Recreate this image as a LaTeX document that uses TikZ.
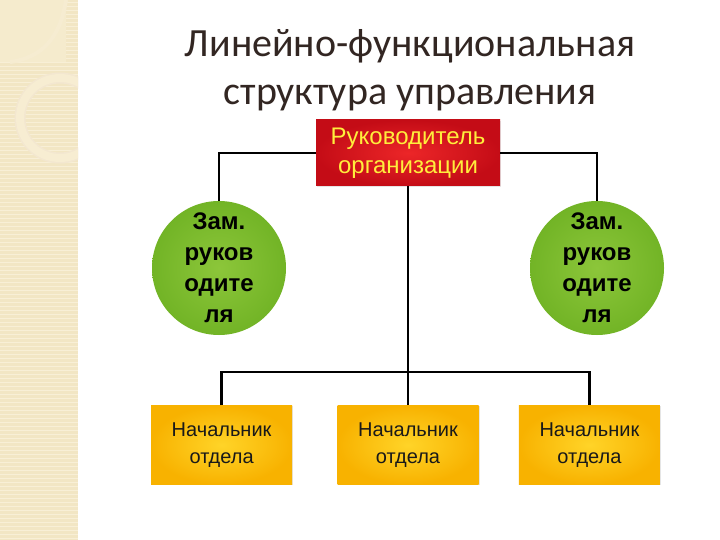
\documentclass[tikz,border=0pt]{standalone}
\usepackage{fontspec}
\setmainfont{Carlito}
\newfontfamily\arialfont{Liberation Sans}
\usetikzlibrary{positioning}
\usetikzlibrary{shadows}
\definecolor{titlegray}{RGB}{50,38,34}
\definecolor{redin}{RGB}{236,38,40}
\definecolor{redout}{RGB}{196,12,22}
\definecolor{greenin}{RGB}{140,198,58}
\definecolor{greenout}{RGB}{114,180,38}
\definecolor{orangein}{RGB}{255,212,40}
\definecolor{orangeout}{RGB}{248,178,0}
\definecolor{bossyellow}{RGB}{255,238,60}
\definecolor{beige}{RGB}{242,230,196}
\definecolor{beigeline}{RGB}{248,239,214}

\begin{document}
\begin{tikzpicture}[x=1pt, y=-1pt,
    every node/.style={align=center},
    bossbox/.style={rectangle, minimum width=184pt, minimum height=66pt, inner sep=0pt,
        inner color=redin, outer color=redout, text=bossyellow,
        font=\arialfont\fontsize{24}{29}\selectfont,
        drop shadow={opacity=0.2, shadow xshift=1pt, shadow yshift=-1pt}},
    deputy/.style={circle, minimum size=134pt, inner sep=0pt,
        inner color=greenin, outer color=greenout,
        font=\arialfont\bfseries\fontsize{24}{31}\selectfont},
    chiefbox/.style={rectangle, minimum width=141pt, minimum height=79pt, inner sep=0pt,
        inner color=orangein, outer color=orangeout, text=black!90,
        font=\arialfont\fontsize{20}{27}\selectfont,
        drop shadow={opacity=0.2, shadow xshift=1pt, shadow yshift=-1pt}},
    link/.style={draw, line width=2.8pt}]
    \useasboundingbox (0,0) rectangle (720,540);
    \fill[white] (0,0) rectangle (720,540);

    % decorative strip on the left
    \begin{scope}
        \clip (0,0) rectangle (78,540);
        \fill[beige] (0,0) rectangle (78,540);
        \foreach \y in {2,6,...,538}
            \draw[beigeline, line width=0.9pt] (0,\y) -- (78,\y);
        \fill[beigeline!50!beige] (0,0) rectangle (66,62);
        \draw[beigeline!70!beige, line width=4pt] (66,0) .. controls (60,40) and (40,58) .. (10,62);
        \draw[beige!85!brown!60, line width=11pt] (60,118) circle (40pt);
        \draw[beigeline!80!beige, line width=8pt] (60,118) circle (40pt);
    \end{scope}

    \node (title) at (410,70) [font=\fontsize{40}{48}\selectfont, text=titlegray]
        {Линейно-функциональная\\структура управления};

    \node (boss) at (408,153) [bossbox] {Руководитель\\организации};
    \node (dep1) at (219,268) [deputy] {Зам.\\руков\\одите\\ля};
    \node (dep2) at (597,268) [deputy] {Зам.\\руков\\одите\\ля};
    \node (head2) [chiefbox, below=219pt of boss] {Начальник\\отдела};
    \node (head1) [chiefbox, left=45pt of head2] {Начальник\\отдела};
    \node (head3) [chiefbox, right=40pt of head2] {Начальник\\отдела};
    \coordinate (bus) at (408,372);

    \draw[link] (boss.west) -| (dep1.north);
    \draw[link] (boss.east) -| (dep2.north);
    \draw[link] (boss.south) -- (head2.north);
    \draw[link] (head1.north) |- (bus) -| (head3.north);
\end{tikzpicture}
\end{document}
